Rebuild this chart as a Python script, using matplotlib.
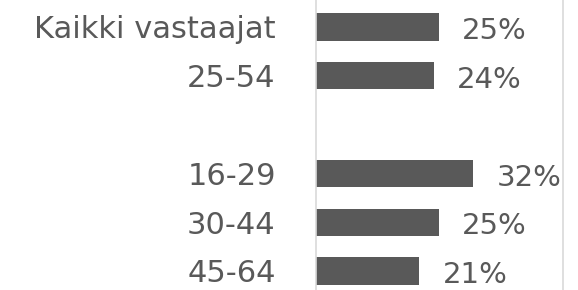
import numpy as np
import matplotlib.pyplot as plt

categories = ["Kaikki vastaajat", "25-54", "", "16-29", "30-44", "45-64"]
values = [25, 24, None, 32, 25, 21]
labels = ["25%", "24%", "", "32%", "25%", "21%"]

GREY = "#595959"
LINE = "#d9d9d9"
FONT = "DejaVu Sans"

fig = plt.figure(figsize=(5.78, 2.90), dpi=100)
ax = fig.add_axes([316 / 578, 0, (563 - 316) / 578, 1])

y = np.arange(len(categories))
for yi, v, lab in zip(y, values, labels):
    if v is None:
        continue
    ax.barh(yi, v, height=0.56, color=GREY)
    ax.annotate(lab, (v, yi), xytext=(17, -3), textcoords="offset points",
                va="center", ha="left", fontsize=21, color=GREY, family=FONT)

ax.set_xlim(0, 50.4)
ax.set_ylim(5.39, -0.553)
ax.set_yticks(y)
ax.set_yticklabels(categories, fontsize=22, color=GREY, family=FONT)
ax.tick_params(axis="y", length=0, pad=29)
ax.set_xticks([])
for s in ["top", "bottom"]:
    ax.spines[s].set_visible(False)
for s in ["left", "right"]:
    ax.spines[s].set_color(LINE)
    ax.spines[s].set_linewidth(1.2)

fig.savefig("out.png", dpi=100)
